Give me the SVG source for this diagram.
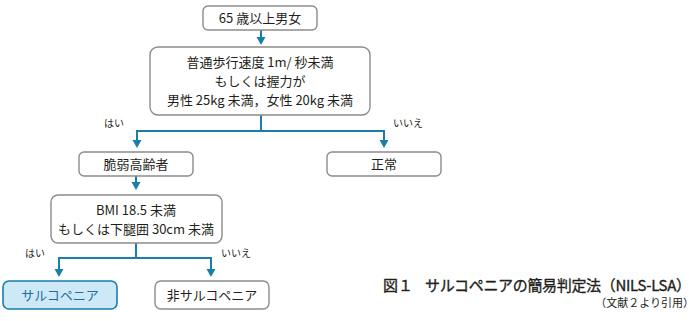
<svg xmlns="http://www.w3.org/2000/svg" width="698" height="321" viewBox="0 0 698 321">
<defs>
<style>
.box{fill:#fff;stroke:#8c8c8c;stroke-width:1.4}
.hl{fill:#cde9f8;stroke:#1a7ea6;stroke-width:1.6}
.t{font-family:"Noto Sans CJK JP","Noto Sans",sans-serif;font-size:13px;fill:#231f20;text-anchor:middle}
.tb{fill:#1a6f9c}
.lab{font-family:"Noto Sans CJK JP","Noto Sans",sans-serif;font-size:10px;fill:#231f20;text-anchor:middle}
.cap{font-family:"Noto Sans CJK JP","Noto Sans",sans-serif;font-size:15px;fill:#231f20;stroke:#231f20;stroke-width:0.35}
.ref{font-family:"Noto Sans CJK JP","Noto Sans",sans-serif;font-size:11px;fill:#231f20;text-anchor:end}
.c{fill:none;stroke:#1a7ea6;stroke-width:2}
</style>
</defs>
<rect width="698" height="321" fill="#fff"/>
<g id="connectors">
<path class="c" d="M261,30 V38"/>
<path d="M256.5,37 L265.5,37 L261,45 Z" fill="#1a7ea6"/>
<path class="c" d="M261,115 V131 M137,131 H384 M137,130 V141 M384,130 V141"/>
<path d="M132.5,140 L141.5,140 L137,148 Z" fill="#1a7ea6"/>
<path d="M379.5,140 L388.5,140 L384,148 Z" fill="#1a7ea6"/>
<path class="c" d="M136,176 V183"/>
<path d="M131.5,182 L140.5,182 L136,190 Z" fill="#1a7ea6"/>
<path class="c" d="M136,243 V258 M59,258 H211 M59,257 V270 M211,257 V270"/>
<path d="M54.5,269 L63.5,269 L59,277 Z" fill="#1a7ea6"/>
<path d="M206.5,269 L215.5,269 L211,277 Z" fill="#1a7ea6"/>
<text class="lab" x="114" y="127">はい</text>
<text class="lab" x="408" y="127">いいえ</text>
<text class="lab" x="35" y="257">はい</text>
<text class="lab" x="236" y="257">いいえ</text>
</g>
<g id="n1">
<rect class="box" x="203" y="6" width="114" height="24" rx="5"/>
<text class="t" x="260" y="23">65 歳以上男女</text>
</g>
<g id="n2">
<rect class="box" x="150" y="47" width="220" height="68" rx="8"/>
<text class="t" x="260" y="67">普通歩行速度 1m/ 秒未満</text>
<text class="t" x="260" y="86">もしくは握力が</text>
<text class="t" x="260" y="105">男性 25kg 未満，女性 20kg 未満</text>
</g>
<g id="n3">
<rect class="box" x="79" y="152" width="114" height="24" rx="5"/>
<text class="t" x="136" y="169">脆弱高齢者</text>
</g>
<g id="n4">
<rect class="box" x="327" y="152" width="114" height="24" rx="5"/>
<text class="t" x="384" y="169">正常</text>
</g>
<g id="n5">
<rect class="box" x="51" y="195" width="171" height="48" rx="7"/>
<text class="t" x="136" y="215">BMI 18.5 未満</text>
<text class="t" x="136" y="234">もしくは下腿囲 30cm 未満</text>
</g>
<g id="n6">
<rect class="hl" x="3" y="281" width="114" height="28" rx="6"/>
<text class="t tb" x="60" y="300">サルコペニア</text>
</g>
<g id="n7">
<rect class="box" x="155" y="281" width="114" height="28" rx="6"/>
<text class="t" x="212" y="300">非サルコペニア</text>
</g>
<g id="caption">
<text class="cap" x="383" y="291">図１</text>
<text class="cap" x="425" y="291" textLength="266" lengthAdjust="spacing">サルコペニアの簡易判定法（NILS-LSA）</text>
<text class="ref" x="694" y="307">（文献２より引用）</text>
</g>
</svg>
